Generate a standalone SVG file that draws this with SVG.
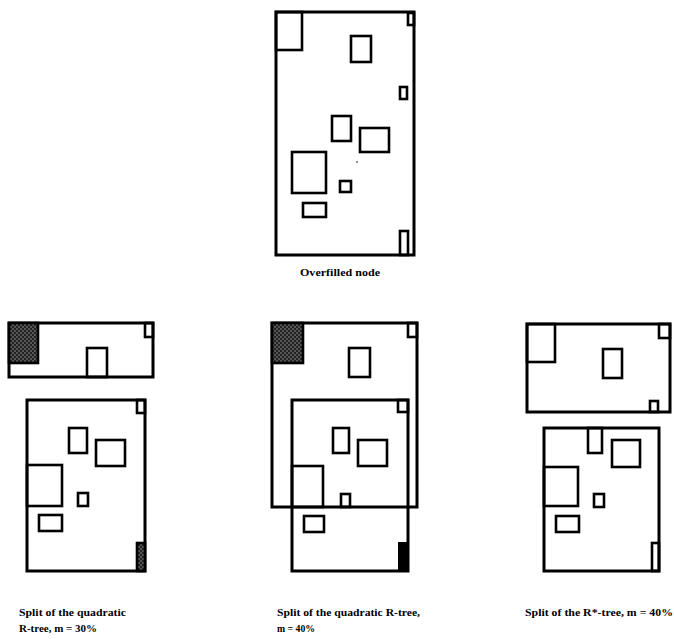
<svg xmlns="http://www.w3.org/2000/svg" width="674" height="639" viewBox="0 0 674 639">
<style>
.o{fill:none;stroke:#000;stroke-width:3}
.b{fill:#fff;stroke:#000;stroke-width:2.6}
.f{fill:none;stroke:#000;stroke-width:2.6}
.h{fill:url(#hatch);stroke:#000;stroke-width:2.6}
.k{fill:#000;stroke:#000;stroke-width:2}
.t{font-family:"Liberation Serif","Times New Roman",serif;font-weight:bold;font-size:11px;fill:#000}
</style>
<defs>
<pattern id="hatch" width="4" height="4" patternUnits="userSpaceOnUse">
<rect width="4" height="4" fill="#222"/>
<circle cx="1" cy="1" r="0.8" fill="#999"/>
<circle cx="3" cy="3" r="0.8" fill="#999"/>
</pattern>
</defs>
<rect width="674" height="639" fill="#fff"/>

<g id="overfilled">
<rect class="o" x="276" y="12" width="138" height="243"/>
<rect class="f" x="276" y="12" width="26" height="38"/>
<rect class="f" x="408" y="13" width="6" height="12"/>
<rect class="f" x="351" y="36" width="20" height="26"/>
<rect class="f" x="400" y="87" width="7" height="12"/>
<rect class="f" x="332" y="116" width="19" height="25"/>
<rect class="f" x="360" y="128" width="29" height="24"/>
<circle cx="357" cy="162" r="0.8" fill="#000"/>
<rect class="f" x="292" y="152" width="34" height="41"/>
<rect class="f" x="340" y="181" width="11" height="11"/>
<rect class="f" x="303" y="203" width="23" height="14"/>
<rect class="f" x="400" y="231" width="8" height="24"/>
<text class="t" x="340" y="276" text-anchor="middle" textLength="80" lengthAdjust="spacingAndGlyphs">Overfilled node</text>
</g>

<g id="quadratic30">
<rect class="o" x="9" y="323" width="144" height="54"/>
<rect class="h" x="9" y="323" width="29" height="40"/>
<rect class="f" x="145" y="323" width="8" height="14"/>
<rect class="f" x="87" y="348" width="20" height="29"/>
<rect class="o" x="27" y="400" width="118" height="171"/>
<rect class="f" x="137" y="400" width="8" height="13"/>
<rect class="f" x="69" y="428" width="18" height="25"/>
<rect class="f" x="96" y="440" width="29" height="26"/>
<rect class="f" x="27" y="465" width="35" height="41"/>
<rect class="f" x="78" y="493" width="10" height="13"/>
<rect class="f" x="39" y="515" width="23" height="16"/>
<rect class="h" x="137" y="543" width="8" height="28"/>
<text class="t" x="19" y="616" textLength="107" lengthAdjust="spacingAndGlyphs">Split of the quadratic</text>
<text class="t" x="19" y="632" textLength="78" lengthAdjust="spacingAndGlyphs">R-tree, m = 30%</text>
</g>

<g id="quadratic40">
<rect class="o" x="272" y="323" width="145" height="184"/>
<rect class="h" x="272" y="323" width="31" height="40"/>
<rect class="f" x="408" y="323" width="9" height="14"/>
<rect class="f" x="349" y="348" width="21" height="29"/>
<rect class="o" x="292" y="400" width="116" height="171"/>
<rect class="f" x="398" y="400" width="10" height="12"/>
<rect class="f" x="333" y="428" width="16" height="25"/>
<rect class="f" x="358" y="440" width="29" height="26"/>
<rect class="f" x="292" y="466" width="31" height="41"/>
<rect class="f" x="341" y="494" width="9" height="13"/>
<rect class="f" x="304" y="516" width="20" height="16"/>
<rect class="k" x="399" y="543" width="9" height="28"/>
<text class="t" x="277" y="616" textLength="143" lengthAdjust="spacingAndGlyphs">Split of the quadratic R-tree,</text>
<text class="t" x="277" y="632" textLength="38" lengthAdjust="spacingAndGlyphs">m = 40%</text>
</g>

<g id="rstar40">
<rect class="o" x="527" y="324" width="143" height="88"/>
<rect class="f" x="527" y="324" width="28" height="38"/>
<rect class="f" x="659" y="324" width="11" height="14"/>
<rect class="f" x="603" y="349" width="19" height="29"/>
<rect class="f" x="650" y="401" width="8" height="11"/>
<rect class="o" x="544" y="428" width="115" height="143"/>
<rect class="f" x="588" y="428" width="14" height="25"/>
<rect class="f" x="612" y="440" width="28" height="27"/>
<rect class="f" x="544" y="467" width="34" height="39"/>
<rect class="f" x="594" y="494" width="10" height="13"/>
<rect class="f" x="556" y="516" width="23" height="16"/>
<rect class="f" x="652" y="543" width="7" height="28"/>
<text class="t" x="525" y="616" textLength="148" lengthAdjust="spacingAndGlyphs">Split of the R*-tree, m = 40%</text>
</g>
</svg>
